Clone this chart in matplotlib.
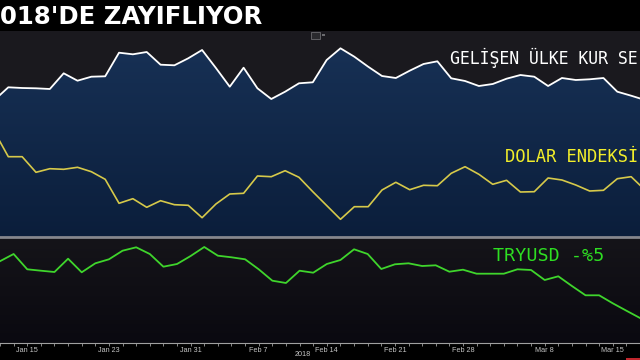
import numpy as np
import pandas as pd
import matplotlib
matplotlib.use("Agg")
import matplotlib.pyplot as plt
from matplotlib.colors import LinearSegmentedColormap
from matplotlib.patches import Rectangle

# ---- data (arbitrary chart units) ----
dates = pd.bdate_range("2018-01-11", "2018-03-19")
em_fx = [137, 149.7, 149, 148.7, 148, 163.7, 156.3, 160.3, 160.7, 184.3, 182.7, 185,
         172.3, 171.7, 178.7, 187, 169, 150.3, 169.3, 148.7, 138, 145.3, 153.7, 154.7,
         177, 188.7, 180.3, 170.3, 161, 159, 166.3, 173, 175.7, 158.7, 156, 151,
         153, 158.3, 162, 160.3, 151, 159, 157, 157.7, 159, 145.3, 141.3, 137]
dxy = [105.3, 80.3, 80.3, 64.7, 68.3, 67.7, 69.7, 65.3, 57.7, 33.7, 38.3, 29.7,
       36.3, 32.3, 31.7, 19.3, 33, 43, 43.7, 61, 60.3, 66.3, 59.7, 45.3,
       31.5, 17.7, 30.3, 30.3, 47, 54.7, 47.3, 51.7, 51.3, 63.7, 70.3, 62.7,
       52.7, 56.7, 45, 45.3, 59, 57, 52, 46, 46.7, 58.3, 60.3, 47]
tryusd = [81.8, 89, 73.7, 72.3, 71, 84.3, 70.7, 79.7, 83.7, 92.3, 95.7, 89,
          76.3, 79, 87, 96, 87.3, 85.7, 83.7, 73.7, 62.3, 60, 72.3, 70.3,
          79, 83, 93.7, 89, 74, 78.7, 79.7, 77, 77.7, 71.3, 73.3, 69.3,
          69.3, 69.3, 73.7, 73, 63, 66.7, 57, 47.7, 47.7, 39.7, 32.3, 25]
tick_dates = ["2018-01-15", "2018-01-23", "2018-01-31", "2018-02-07", "2018-02-14",
              "2018-02-21", "2018-02-28", "2018-03-08", "2018-03-15"]
tick_labels = ["Jan 15", "Jan 23", "Jan 31", "Feb 7", "Feb 14",
               "Feb 21", "Feb 28", "Mar 8", "Mar 15"]
title = "018'DE ZAYIFLIYOR"
lbl_em = "GELİŞEN ÜLKE KUR SE"
lbl_dxy = "DOLAR ENDEKSİ"
lbl_try = "TRYUSD -%5"
year_label = "2018"

x = np.arange(len(dates))
pos = {d: i for i, d in enumerate(dates.strftime("%Y-%m-%d"))}
tick_pos = [pos[d] for d in tick_dates]
X0, X1 = 0.4, 46.64

W, H = 640, 360
fig = plt.figure(figsize=(6.4, 3.6), dpi=100, facecolor="#000000")

def fy(py):
    return 1 - py / H

# top panel
ax_top = fig.add_axes([0, fy(237), 1, (237 - 31) / H])
ax_top.set_facecolor("#1a191e")
ax_top.set_xlim(X0, X1)
ax_top.set_ylim(0, 206)
poly = ax_top.fill_between(x, em_fx, 0, color="none", lw=0)
cmap = LinearSegmentedColormap.from_list("navy", ["#0b1e3b", "#183257"])
grad = np.linspace(0, 1, 256).reshape(-1, 1)
im = ax_top.imshow(grad, extent=[X0, X1, 0, 206], origin="lower", aspect="auto",
                   cmap=cmap, zorder=1)
im.set_clip_path(poly.get_paths()[0], transform=ax_top.transData)
ax_top.plot(x, em_fx, color="#ffffff", lw=1.3, zorder=3)
ax_top.plot(x, dxy, color="#d6c94a", lw=1.2, zorder=3)
for s in ["top", "left", "right"]:
    ax_top.spines[s].set_visible(False)
ax_top.spines["bottom"].set_color("#86878d")
ax_top.spines["bottom"].set_linewidth(2)
ax_top.set_xticks([])
ax_top.set_yticks([])

# bottom panel
ax_bot = fig.add_axes([0, fy(343), 1, (343 - 239) / H])
ax_bot.set_xlim(X0, X1)
ax_bot.set_ylim(0, 104)
bcmap = LinearSegmentedColormap.from_list("bg", ["#0a0910", "#151419"])
ax_bot.imshow(grad, extent=[0, 1, 0, 1], transform=ax_bot.transAxes, origin="lower",
              aspect="auto", cmap=bcmap, zorder=0)
ax_bot.plot(x, tryusd, color="#3fd52c", lw=1.3, zorder=3)
for s in ["top", "left", "right"]:
    ax_bot.spines[s].set_visible(False)
ax_bot.spines["bottom"].set_color("#a0a0a0")
ax_bot.spines["bottom"].set_linewidth(0.8)
ax_bot.set_yticks([])
ax_bot.set_xticks(tick_pos)
ax_bot.set_xticklabels(tick_labels, fontsize=5.2, color="#c4c4c4",
                       family="Liberation Sans")
ax_bot.set_xticks(x, minor=True)
ax_bot.tick_params(axis="x", which="both", direction="out", length=2, width=0.6,
                   color="#a0a0a0", pad=1.2)

# texts
fig.text(0 / W, fy(24), title, color="white", fontsize=17.6, fontweight="bold",
         family="DejaVu Sans", va="baseline", ha="left")
fig.text(450 / W, fy(58), lbl_em, color="white", fontsize=11.9,
         family="DejaVu Sans Mono", va="center", ha="left")
fig.text(505 / W, fy(157), lbl_dxy, color="#f2ee2a", fontsize=12.3,
         family="DejaVu Sans Mono", va="center", ha="left")
fig.text(493 / W, fy(256), lbl_try, color="#2ede22", fontsize=13.2,
         family="DejaVu Sans Mono", va="center", ha="left")
fig.text(303 / W, fy(355), year_label, color="#c4c4c4", fontsize=5.2,
         family="Liberation Sans", va="center", ha="center")

# small decorations
fig.patches.append(Rectangle((311 / W, fy(39)), 9 / W, 7 / H, transform=fig.transFigure,
                             facecolor="#2a2a2e", edgecolor="#6a6a6e", lw=0.6))
fig.patches.append(Rectangle((322 / W, fy(36)), 3 / W, 2 / H, transform=fig.transFigure,
                             facecolor="#6a6a6e", edgecolor="none"))
fig.patches.append(Rectangle((626 / W, 0), 14 / W, 2 / H, transform=fig.transFigure,
                             facecolor="#c0262c", edgecolor="none"))

fig.savefig("out.png", dpi=100, facecolor=fig.get_facecolor())
